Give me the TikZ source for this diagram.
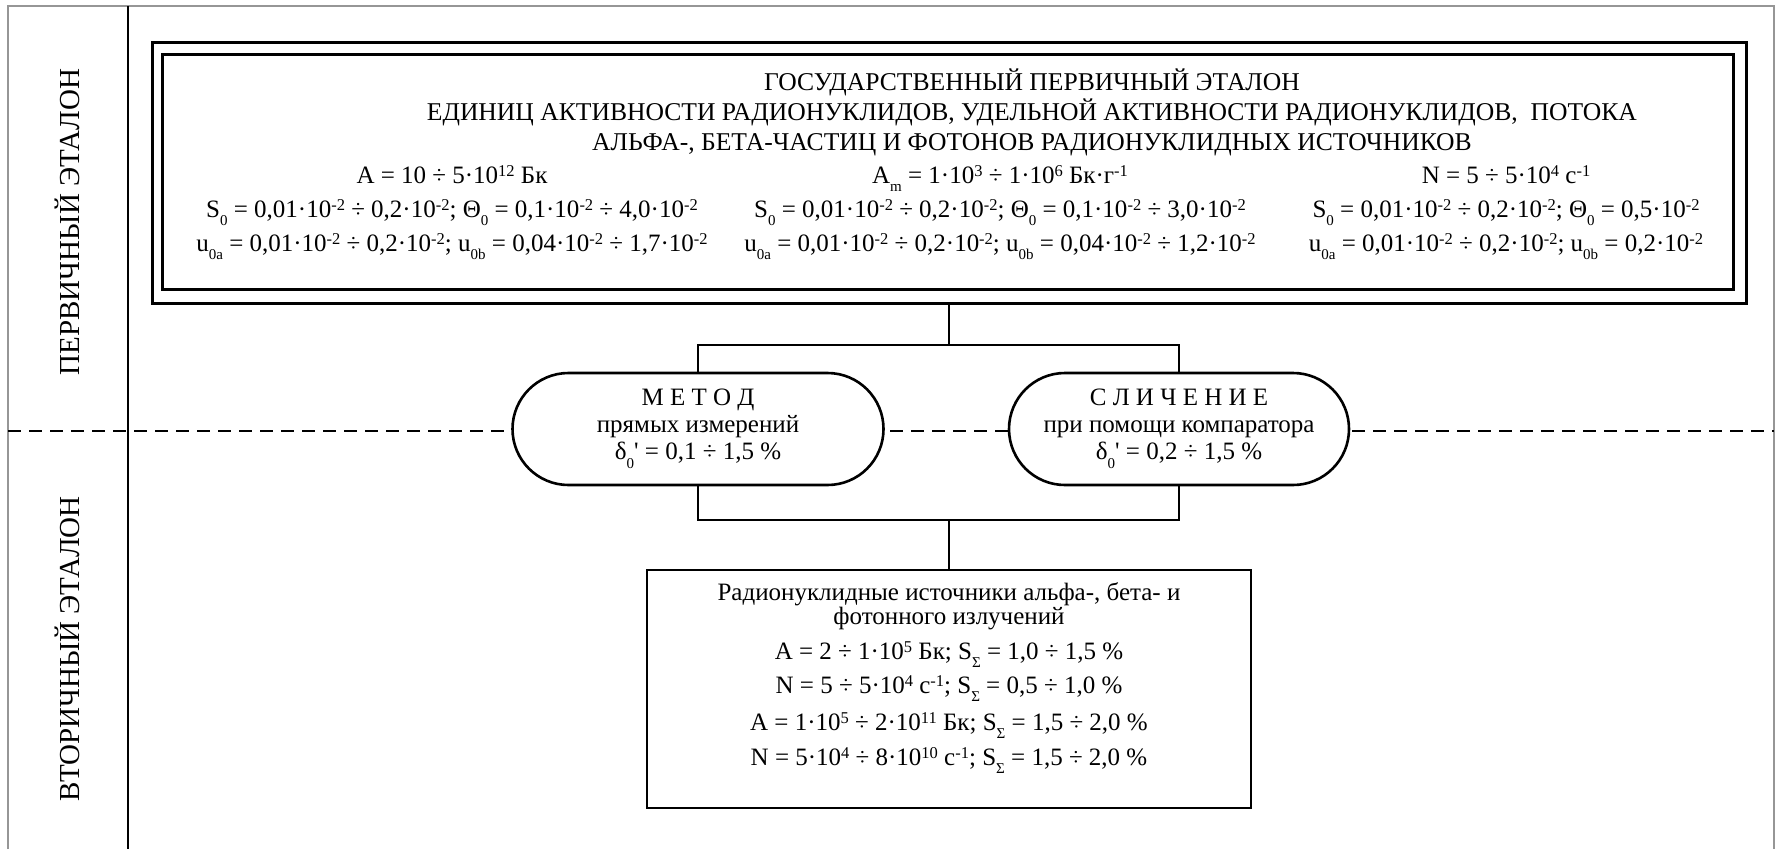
\documentclass[tikz,border=0pt]{standalone}
\usepackage{fontspec}
\setmainfont{Liberation Serif}
\newfontfamily\sidefont{Liberation Serif}
\newfontfamily\plainserif{Liberation Serif}
\usetikzlibrary{shapes.misc}
% sub- and superscripts for the formulas
\newcommand{\lo}[1]{\raisebox{-8.5pt}{\fontsize{15}{15}\selectfont #1}}
\newcommand{\hi}[1]{\raisebox{6.5pt}{\fontsize{16.5}{16.5}\selectfont #1}}
\newcommand{\bodysize}{\fontsize{25}{27}\selectfont}
\newcommand{\apos}{{\plainserif'}}
\definecolor{framegray}{RGB}{150,150,150}
\begin{document}
\begin{tikzpicture}[x=1pt,y=-1pt,
  frameline/.style={draw=framegray, line width=2.2pt},
  sepline/.style={line width=2.4pt},
  levelline/.style={line width=2.6pt, dash pattern=on 13pt off 8pt},
  boxline/.style={draw, line width=3pt, inner sep=0pt},
  conn/.style={line width=2.6pt},
  oval/.style={rounded rectangle, draw, line width=2.6pt, fill=white,
    minimum height=112pt, inner sep=0pt, align=center, font=\bodysize},
  txt/.style={inner sep=0pt, anchor=base, font=\bodysize},
  titletxt/.style={txt, font=\fontsize{25.6}{27}\selectfont},
  sidelabel/.style={inner sep=0pt, anchor=base, rotate=90,
    font=\sidefont\fontsize{29}{29}\selectfont}
]
\useasboundingbox (0,0) rectangle (1779,849);

% page frame and the column for the level names
\draw[frameline] (8,849) -- (8,6) -- (1774,6) -- (1774,849);
\draw[sepline] (128,6) -- (128,849);
\draw[levelline] (8,431) -- (1774,431);

\node[sidelabel] (lvlprim) at (79,222) {ПЕРВИЧНЫЙ ЭТАЛОН};
\node[sidelabel] (lvlsec) at (79,649) {ВТОРИЧНЫЙ ЭТАЛОН};

% state primary standard (double frame)
\node[boxline, minimum width=1594pt, minimum height=261pt] (outerbox) at (949,172.5) {};
\node[boxline, minimum width=1571pt, minimum height=235pt] (etalon) at (947.5,171.5) {};

\node[titletxt] (title1) at (1032,90) {ГОСУДАРСТВЕННЫЙ ПЕРВИЧНЫЙ ЭТАЛОН};
\node[titletxt] (title2) at (1032,120) {ЕДИНИЦ АКТИВНОСТИ РАДИОНУКЛИДОВ, УДЕЛЬНОЙ АКТИВНОСТИ РАДИОНУКЛИДОВ, \ ПОТОКА};
\node[titletxt] (title3) at (1032,150) {АЛЬФА-, БЕТА-ЧАСТИЦ И ФОТОНОВ РАДИОНУКЛИДНЫХ ИСТОЧНИКОВ};

\node[txt] (pa1) at (452,183) {A = 10 ÷ 5·10\hi{12} Бк};
\node[txt] (pa2) at (452,217) {S\lo{0} = 0,01·10\hi{-2} ÷ 0,2·10\hi{-2}; Θ\lo{0} = 0,1·10\hi{-2} ÷ 4,0·10\hi{-2}};
\node[txt] (pa3) at (452,251) {u\lo{0a} = 0,01·10\hi{-2} ÷ 0,2·10\hi{-2}; u\lo{0b} = 0,04·10\hi{-2} ÷ 1,7·10\hi{-2}};

\node[txt] (pm1) at (1000,183) {A\lo{m} = 1·10\hi{3} ÷ 1·10\hi{6} Бк·г\hi{-1}};
\node[txt] (pm2) at (1000,217) {S\lo{0} = 0,01·10\hi{-2} ÷ 0,2·10\hi{-2}; Θ\lo{0} = 0,1·10\hi{-2} ÷ 3,0·10\hi{-2}};
\node[txt] (pm3) at (1000,251) {u\lo{0a} = 0,01·10\hi{-2} ÷ 0,2·10\hi{-2}; u\lo{0b} = 0,04·10\hi{-2} ÷ 1,2·10\hi{-2}};

\node[txt] (pn1) at (1506,183) {N = 5 ÷ 5·10\hi{4} с\hi{-1}};
\node[txt] (pn2) at (1506,217) {S\lo{0} = 0,01·10\hi{-2} ÷ 0,2·10\hi{-2}; Θ\lo{0} = 0,5·10\hi{-2}};
\node[txt] (pn3) at (1506,251) {u\lo{0a} = 0,01·10\hi{-2} ÷ 0,2·10\hi{-2}; u\lo{0b} = 0,2·10\hi{-2}};

% transfer methods
\node[oval, minimum width=371pt] (metod) at (698,429)
  {М Е Т О Д\\прямых измерений\\δ\lo{0}\apos{} = 0,1 ÷ 1,5 \%};
\node[oval, minimum width=340pt] (slich) at (1179,429)
  {С Л И Ч Е Н И Е\\при помощи компаратора\\δ\lo{0}\apos{} = 0,2 ÷ 1,5 \%};

% secondary standard
\node[boxline, line width=2.6pt, minimum width=604pt, minimum height=238pt] (sources) at (949,689) {};
\node[txt] (src1) at (949,600) {Радионуклидные источники альфа-, бета- и};
\node[txt] (src2) at (949,624) {фотонного излучений};
\node[txt] (src3) at (949,659) {A = 2 ÷ 1·10\hi{5} Бк; S\lo{Σ} = 1,0 ÷ 1,5 \%};
\node[txt] (src4) at (949,693) {N = 5 ÷ 5·10\hi{4} с\hi{-1}; S\lo{Σ} = 0,5 ÷ 1,0 \%};
\node[txt] (src5) at (949,730) {A = 1·10\hi{5} ÷ 2·10\hi{11} Бк; S\lo{Σ} = 1,5 ÷ 2,0 \%};
\node[txt] (src6) at (949,765) {N = 5·10\hi{4} ÷ 8·10\hi{10} с\hi{-1}; S\lo{Σ} = 1,5 ÷ 2,0 \%};

% connectors
\coordinate (jt) at (949,345);
\coordinate (jb) at (949,520);
\draw[conn] (outerbox.south) -- (jt);
\draw[conn] (metod.north) |- (jt) -| (slich.north);
\draw[conn] (metod.south) |- (jb) -| (slich.south);
\draw[conn] (jb) -- (sources.north);
\end{tikzpicture}
\end{document}
